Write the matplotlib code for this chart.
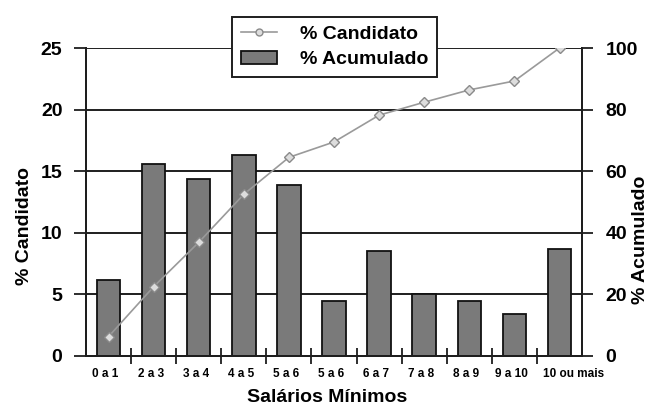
import matplotlib
matplotlib.use("Agg")
import matplotlib.pyplot as plt
import matplotlib.transforms as mtransforms
import numpy as np
from matplotlib.lines import Line2D
from matplotlib.patches import Patch

categories = ["0 a 1", "2 a 3", "3 a 4", "4 a 5", "5 a 6", "5 a 6", "6 a 7",
              "7 a 8", "8 a 9", "9 a 10", "10 ou mais"]
pct_candidato = [6.2, 15.6, 14.4, 16.3, 13.9, 4.5, 8.5, 5.0, 4.5, 3.4, 8.7]
pct_acumulado = [6.3, 22.5, 36.9, 52.5, 64.5, 69.5, 78.2, 82.4, 86.4, 89.3, 100.0]
left_ticks = [0, 5, 10, 15, 20, 25]
right_ticks = [0, 20, 40, 60, 80, 100]

plt.rcParams["font.family"] = ["Liberation Sans", "DejaVu Sans"]
plt.rcParams["font.weight"] = "bold"

INK = "#1e1e1e"
BAR = "#7a7a7a"
LINE = "#9a9a9a"

fig = plt.figure(figsize=(6.54, 4.09), dpi=100)
ax = fig.add_axes([0.1315, 0.1296, 0.7585, 0.753])
x = np.arange(len(categories))

ax.set_axisbelow(True)
ax.grid(axis="y", color=INK, linewidth=1.4)
ax.bar(x, pct_candidato, width=0.52, color=BAR, edgecolor="#111111",
       linewidth=1.3, zorder=2)
ax.set_xlim(-0.5, len(categories) - 0.5)
ax.set_ylim(0, 25)
ax.set_yticks(left_ticks)
ax.set_yticklabels([str(v) for v in left_ticks], fontsize=14, fontweight="bold")
ax.set_xticks(x)
ax.set_xticklabels(categories, fontsize=8.5, fontweight="bold")
ax.set_xticks(np.arange(0.5, len(categories) - 1, 1.0), minor=True)
ax.tick_params(axis="x", which="major", length=0, pad=9)
ax.tick_params(axis="x", which="minor", direction="inout", length=11,
               width=1.3, color=INK)
ax.tick_params(axis="y", length=9, width=1.3, color=INK, pad=8)
ax.spines["top"].set_visible(False)
for side in ["left", "bottom", "right"]:
    ax.spines[side].set_linewidth(1.4)
    ax.spines[side].set_color(INK)

# shift tick labels slightly; the long last one sits further right
for i, lbl in enumerate(ax.get_xticklabels()):
    dx = 14 if i == len(categories) - 1 else -3
    lbl.set_transform(lbl.get_transform() +
                      mtransforms.ScaledTranslation(dx / 100, 0, fig.dpi_scale_trans))

ax2 = ax.twinx()
ax2.plot(x, pct_acumulado, color=LINE, linewidth=1.2, marker="D",
         markersize=5.5, markerfacecolor="#dddddd", markeredgecolor="#8a8a8a",
         markeredgewidth=1.0, zorder=3)
ax2.set_ylim(0, 100)
ax2.set_yticks(right_ticks)
ax2.set_yticklabels([str(v) for v in right_ticks], fontsize=14, fontweight="bold")
ax2.tick_params(axis="y", length=8, width=1.3, color=INK, pad=9)
ax2.spines["top"].set_visible(False)
for side in ["left", "bottom", "right"]:
    ax2.spines[side].set_linewidth(1.4)
    ax2.spines[side].set_color(INK)

fig.text(0.038, 0.4475, "% Candidato", rotation=90, ha="center", va="center",
         fontsize=14, fontweight="bold")
fig.text(0.9786, 0.413, "% Acumulado", rotation=90, ha="center", va="center",
         fontsize=14, fontweight="bold")
fig.text(0.5, 0.029, "Salários Mínimos", ha="center", va="center",
         fontsize=14, fontweight="bold")

handles = [
    Line2D([], [], color=LINE, linewidth=1.2, marker="o", markersize=5,
           markerfacecolor="#dddddd", markeredgecolor="#8a8a8a"),
    Patch(facecolor=BAR, edgecolor="#111111", linewidth=1.3),
]
leg = fig.legend(handles, ["% Candidato", "% Acumulado"], loc="center",
                 bbox_to_anchor=(0.5115, 0.885), fontsize=14, frameon=True,
                 fancybox=False, edgecolor=INK, framealpha=1,
                 handlelength=1.85, handleheight=0.6, borderpad=0.45,
                 labelspacing=0.45, handletextpad=1.2, borderaxespad=0)
leg.get_frame().set_linewidth(1.4)
for t in leg.get_texts():
    t.set_fontweight("bold")
leg.set_zorder(10)

fig.savefig("out.png", dpi=100)
